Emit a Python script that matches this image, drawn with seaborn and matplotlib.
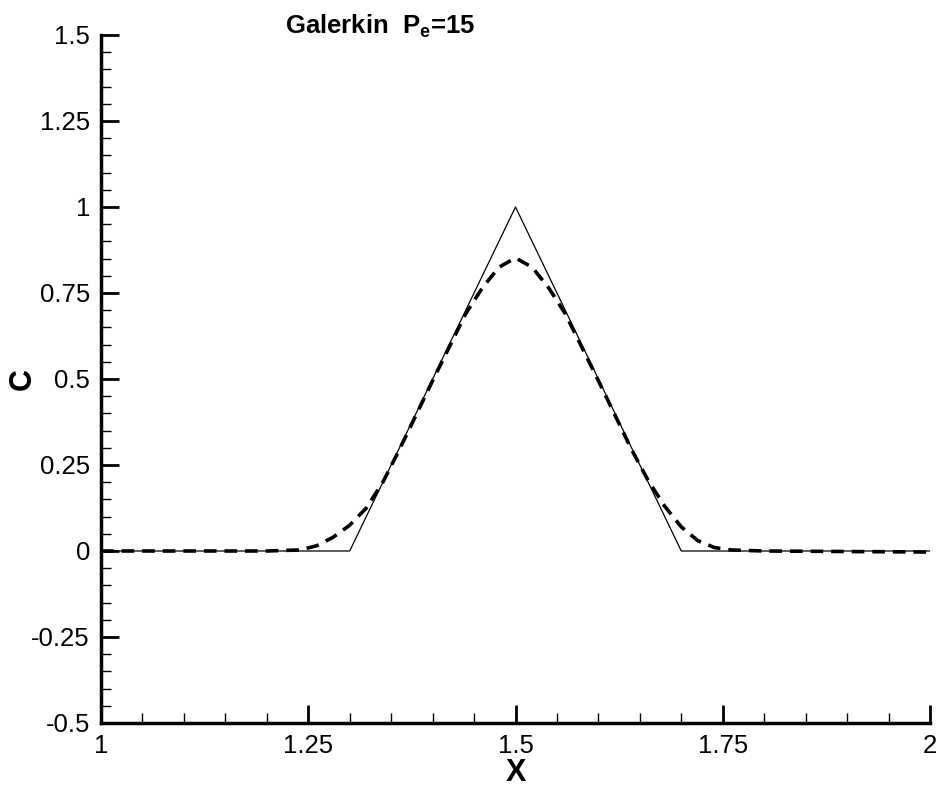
import matplotlib
matplotlib.use("Agg")
import matplotlib.pyplot as plt
import seaborn as sns
import pandas as pd
from matplotlib.ticker import MultipleLocator

# exact solution (triangle)
exact_x = [1.0, 1.3, 1.5, 1.7, 2.0]
exact_c = [0.0, 0.0, 1.0, 0.0, 0.0]

# Galerkin numerical solution, Pe=15
galerkin_x = [1.0, 1.2, 1.24, 1.26, 1.28, 1.30, 1.32, 1.34, 1.36, 1.40, 1.44, 1.46, 1.48,
              1.50, 1.52, 1.54, 1.56, 1.60, 1.64, 1.66, 1.68, 1.70, 1.72, 1.74, 1.76, 1.80, 2.0]
galerkin_c = [0.0, 0.0, 0.003, 0.015, 0.04, 0.075, 0.125, 0.2, 0.295, 0.495, 0.69, 0.765, 0.825,
              0.852, 0.825, 0.765, 0.69, 0.495, 0.295, 0.205, 0.13, 0.07, 0.03, 0.01, 0.003, 0.0, -0.003]

x_ticks = [1, 1.25, 1.5, 1.75, 2]
x_tick_labels = ["1", "1.25", "1.5", "1.75", "2"]
y_ticks = [-0.5, -0.25, 0, 0.25, 0.5, 0.75, 1, 1.25, 1.5]
y_tick_labels = ["-0.5", "-0.25", "0", "0.25", "0.5", "0.75", "1", "1.25", "1.5"]

sns.set_style("ticks")
plt.rcParams["font.family"] = ["Liberation Sans", "DejaVu Sans"]
plt.rcParams["text.color"] = "black"
plt.rcParams["axes.labelcolor"] = "black"
plt.rcParams["xtick.color"] = "black"
plt.rcParams["ytick.color"] = "black"

fig = plt.figure(figsize=(9.42, 7.89), dpi=100)
ax = fig.add_axes([101 / 942, 1 - 723 / 789, (930 - 101) / 942, (723 - 35) / 789])

df_exact = pd.DataFrame({"x": exact_x, "c": exact_c})
df_gal = pd.DataFrame({"x": galerkin_x, "c": galerkin_c})

sns.lineplot(data=df_exact, x="x", y="c", ax=ax, color="black", linewidth=0.9,
             sort=False, estimator=None)
sns.lineplot(data=df_gal, x="x", y="c", ax=ax, color="black", linewidth=2.6,
             sort=False, estimator=None, dashes=False)
ax.lines[-1].set_dashes([3.5, 2.2])

ax.set_xlim(1, 2)
ax.set_ylim(-0.5, 1.5)
ax.set_xticks(x_ticks)
ax.set_xticklabels(x_tick_labels)
ax.set_yticks(y_ticks)
ax.set_yticklabels(y_tick_labels)
ax.xaxis.set_minor_locator(MultipleLocator(0.05))
ax.yaxis.set_minor_locator(MultipleLocator(0.05))

ax.tick_params(which="major", direction="in", length=13, width=2, labelsize=18.5,
               pad=8, color="black", labelcolor="black")
ax.tick_params(which="minor", direction="in", length=7, width=1, color="black")

for s in ["top", "right"]:
    ax.spines[s].set_visible(False)
for s in ["left", "bottom"]:
    ax.spines[s].set_linewidth(2.5)
    ax.spines[s].set_color("black")

ax.set_xlabel("X", fontsize=22, fontweight="bold", labelpad=0, color="black")
ax.set_ylabel("C", fontsize=22, fontweight="bold", labelpad=-5, color="black")

fig.text(285 / 942, 1 - 33 / 789, r"Galerkin  P$_\mathregular{e}$=15", fontsize=18.5,
         fontweight="bold", ha="left", va="baseline", color="black")

fig.savefig("out.png", dpi=100, facecolor="white")
